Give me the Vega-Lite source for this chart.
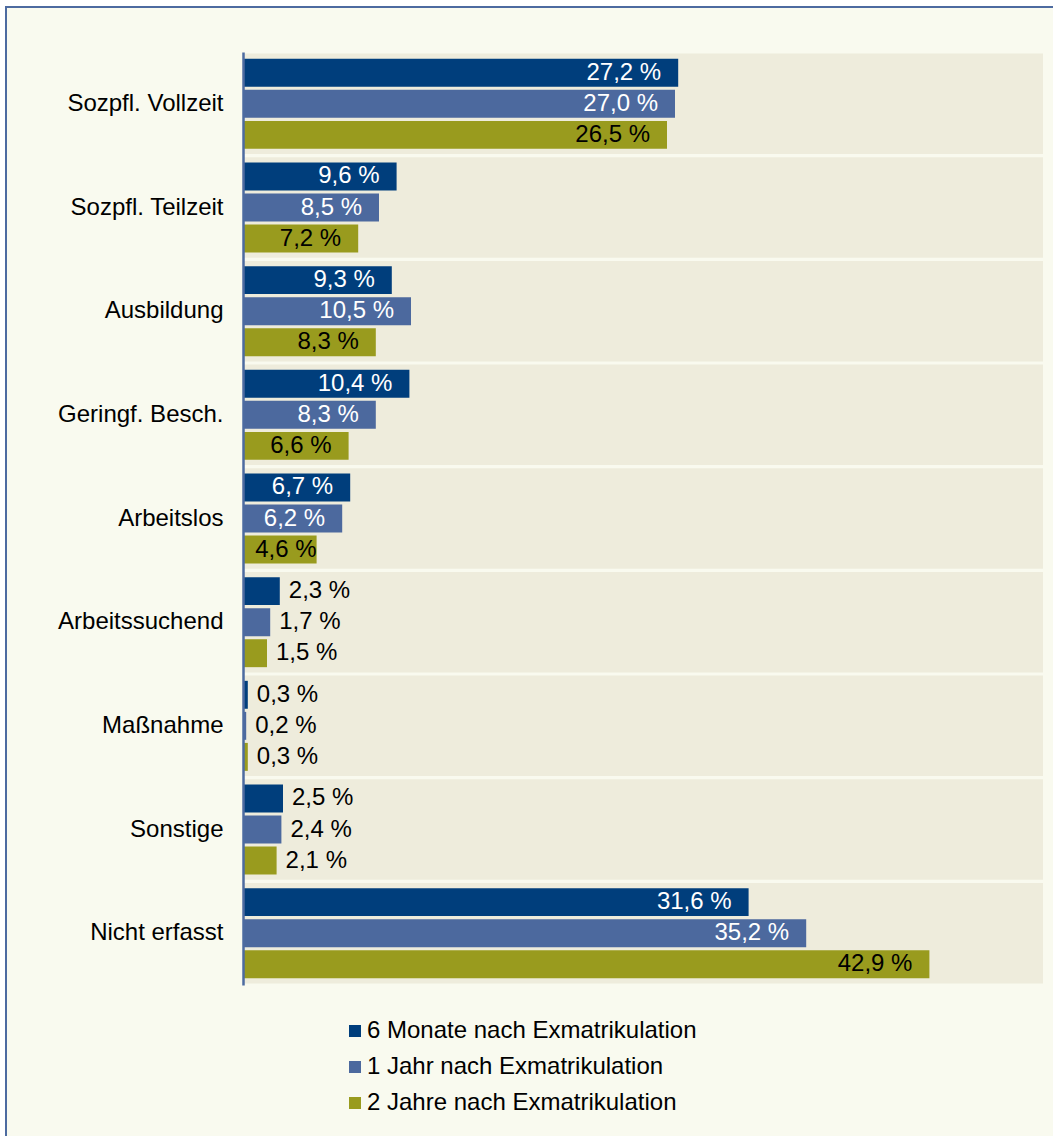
{
  "$schema": "https://vega.github.io/schema/vega-lite/v6.json",
  "width": 1049,
  "height": 1131,
  "autosize": {"type": "none"},
  "padding": {"left": 6, "top": 7, "right": 0, "bottom": 0},
  "background": "#ffffff",
  "config": {
    "view": {"stroke": "#4d6ba0", "strokeWidth": 2, "fill": "#f9faef"},
    "font": "Liberation Sans",
    "locale": {
      "number": {"decimal": ",", "thousands": ".", "grouping": [3], "currency": ["", " €"], "percent": " %"}
    }
  },
  "datasets": {
    "cats": [
      {"cat": "Sozpfl. Vollzeit"}, {"cat": "Sozpfl. Teilzeit"}, {"cat": "Ausbildung"},
      {"cat": "Geringf. Besch."}, {"cat": "Arbeitslos"}, {"cat": "Arbeitssuchend"},
      {"cat": "Maßnahme"}, {"cat": "Sonstige"}, {"cat": "Nicht erfasst"}
    ],
    "main": [
      {"cat": "Sozpfl. Vollzeit", "series": "6 Monate nach Exmatrikulation", "value": 0.272},
      {"cat": "Sozpfl. Vollzeit", "series": "1 Jahr nach Exmatrikulation", "value": 0.270},
      {"cat": "Sozpfl. Vollzeit", "series": "2 Jahre nach Exmatrikulation", "value": 0.265},
      {"cat": "Sozpfl. Teilzeit", "series": "6 Monate nach Exmatrikulation", "value": 0.096},
      {"cat": "Sozpfl. Teilzeit", "series": "1 Jahr nach Exmatrikulation", "value": 0.085},
      {"cat": "Sozpfl. Teilzeit", "series": "2 Jahre nach Exmatrikulation", "value": 0.072},
      {"cat": "Ausbildung", "series": "6 Monate nach Exmatrikulation", "value": 0.093},
      {"cat": "Ausbildung", "series": "1 Jahr nach Exmatrikulation", "value": 0.105},
      {"cat": "Ausbildung", "series": "2 Jahre nach Exmatrikulation", "value": 0.083},
      {"cat": "Geringf. Besch.", "series": "6 Monate nach Exmatrikulation", "value": 0.104},
      {"cat": "Geringf. Besch.", "series": "1 Jahr nach Exmatrikulation", "value": 0.083},
      {"cat": "Geringf. Besch.", "series": "2 Jahre nach Exmatrikulation", "value": 0.066},
      {"cat": "Arbeitslos", "series": "6 Monate nach Exmatrikulation", "value": 0.067},
      {"cat": "Arbeitslos", "series": "1 Jahr nach Exmatrikulation", "value": 0.062},
      {"cat": "Arbeitslos", "series": "2 Jahre nach Exmatrikulation", "value": 0.046},
      {"cat": "Arbeitssuchend", "series": "6 Monate nach Exmatrikulation", "value": 0.023},
      {"cat": "Arbeitssuchend", "series": "1 Jahr nach Exmatrikulation", "value": 0.017},
      {"cat": "Arbeitssuchend", "series": "2 Jahre nach Exmatrikulation", "value": 0.015},
      {"cat": "Maßnahme", "series": "6 Monate nach Exmatrikulation", "value": 0.003},
      {"cat": "Maßnahme", "series": "1 Jahr nach Exmatrikulation", "value": 0.002},
      {"cat": "Maßnahme", "series": "2 Jahre nach Exmatrikulation", "value": 0.003},
      {"cat": "Sonstige", "series": "6 Monate nach Exmatrikulation", "value": 0.025},
      {"cat": "Sonstige", "series": "1 Jahr nach Exmatrikulation", "value": 0.024},
      {"cat": "Sonstige", "series": "2 Jahre nach Exmatrikulation", "value": 0.021},
      {"cat": "Nicht erfasst", "series": "6 Monate nach Exmatrikulation", "value": 0.316},
      {"cat": "Nicht erfasst", "series": "1 Jahr nach Exmatrikulation", "value": 0.352},
      {"cat": "Nicht erfasst", "series": "2 Jahre nach Exmatrikulation", "value": 0.429}
    ]
  },
  "encoding": {
    "y": {
      "field": "cat", "type": "nominal", "sort": null,
      "scale": {
        "domain": ["Sozpfl. Vollzeit", "Sozpfl. Teilzeit", "Ausbildung", "Geringf. Besch.", "Arbeitslos", "Arbeitssuchend", "Maßnahme", "Sonstige", "Nicht erfasst"],
        "range": [45, 978], "paddingInner": 0.03, "paddingOuter": 0.015
      },
      "axis": {
        "title": null, "offset": -237, "ticks": false, "labelPadding": 20,
        "labelFontSize": 24, "labelColor": "#000000", "labelFont": "Liberation Sans",
        "domainColor": "#4d6ba0", "domainWidth": 2.5, "grid": false
      }
    }
  },
  "layer": [
    {
      "data": {"name": "cats"},
      "mark": {"type": "rect", "color": "#eeecdc"},
      "encoding": {
        "x": {"datum": 0, "type": "quantitative", "scale": {"domain": [-0.148125, 0.5075], "nice": false, "zero": false}, "axis": null},
        "x2": {"datum": 0.5}
      }
    },
    {
      "data": {"name": "main"},
      "mark": {"type": "bar"},
      "encoding": {
        "x": {"field": "value", "type": "quantitative"},
        "x2": {"datum": 0},
        "yOffset": {
          "field": "series", "type": "nominal", "sort": null,
          "scale": {"domain": ["6 Monate nach Exmatrikulation", "1 Jahr nach Exmatrikulation", "2 Jahre nach Exmatrikulation"], "paddingInner": 0.1, "paddingOuter": 0.17}
        },
        "color": {
          "field": "series", "type": "nominal",
          "scale": {
            "domain": ["6 Monate nach Exmatrikulation", "1 Jahr nach Exmatrikulation", "2 Jahre nach Exmatrikulation"],
            "range": ["#003e7c", "#4c699e", "#999b1e"]
          },
          "legend": {
            "title": null, "orient": "none", "legendX": 337, "legendY": 1012,
            "symbolType": "square", "symbolSize": 144, "symbolStrokeWidth": 0,
            "labelFontSize": 24, "labelFont": "Liberation Sans", "labelColor": "#000000",
            "labelOffset": 0, "rowPadding": 12, "labelLimit": 600
          }
        }
      }
    },
    {
      "data": {"name": "main"},
      "transform": [{"filter": "datum.value >= 0.05"}],
      "mark": {"type": "text", "align": "right", "baseline": "middle", "dx": -17, "fontSize": 24},
      "encoding": {
        "x": {"field": "value", "type": "quantitative"},
        "yOffset": {"field": "series", "type": "nominal", "sort": null},
        "text": {"field": "value", "type": "quantitative", "format": ".1%"},
        "color": {"condition": {"test": "datum.series === '2 Jahre nach Exmatrikulation'", "value": "#000000"}, "value": "#ffffff"}
      }
    },
    {
      "data": {"name": "main"},
      "transform": [{"filter": "datum.value >= 0.04 && datum.value < 0.05"}],
      "mark": {"type": "text", "align": "right", "baseline": "middle", "dx": 0, "fontSize": 24, "color": "#000000"},
      "encoding": {
        "x": {"field": "value", "type": "quantitative"},
        "yOffset": {"field": "series", "type": "nominal", "sort": null},
        "text": {"field": "value", "type": "quantitative", "format": ".1%"}
      }
    },
    {
      "data": {"name": "main"},
      "transform": [{"filter": "datum.value < 0.04"}],
      "mark": {"type": "text", "align": "left", "baseline": "middle", "dx": 9, "fontSize": 24, "color": "#000000"},
      "encoding": {
        "x": {"field": "value", "type": "quantitative"},
        "yOffset": {"field": "series", "type": "nominal", "sort": null},
        "text": {"field": "value", "type": "quantitative", "format": ".1%"}
      }
    }
  ]
}
